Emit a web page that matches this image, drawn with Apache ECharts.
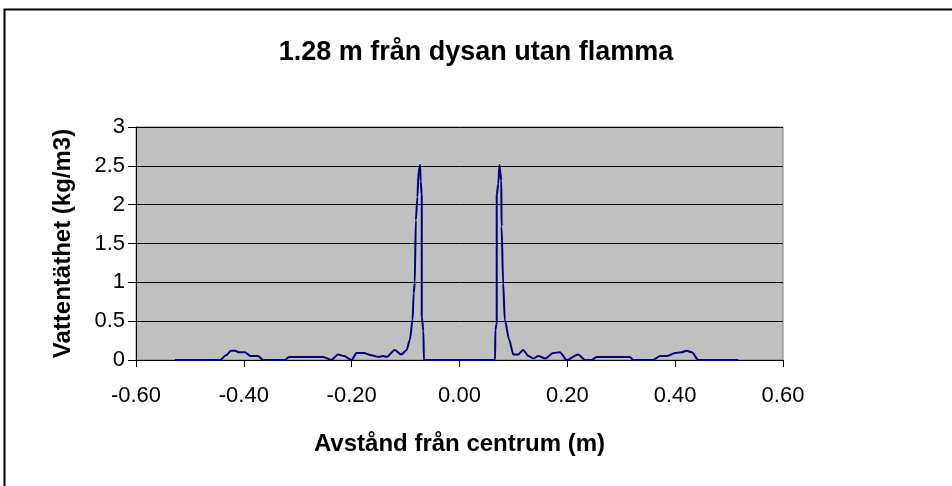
<!DOCTYPE html>
<html lang="sv">
<head>
    <meta charset="UTF-8">
    <title>1.28 m från dysan utan flamma</title>
    <style>
        html, body { margin: 0; padding: 0; background: #fff; }
        #main { width: 952px; height: 486px; }
    </style>
</head>
<body>
    <div id="main"></div>
    <script src="https://cdn.jsdelivr.net/npm/echarts@6/dist/echarts.min.js"></script>
    <script>
        // avstånd från centrum (m)
        const xVals = [
            -0.528, -0.444, -0.433, -0.424, -0.416, -0.410, -0.398, -0.387, -0.374, -0.364,
            -0.324, -0.316, -0.253, -0.238, -0.225, -0.214, -0.200, -0.191, -0.178, -0.163,
            -0.151, -0.141, -0.135, -0.120, -0.108, -0.098, -0.092, -0.087, -0.085, -0.083,
            -0.081, -0.078, -0.076, -0.073, -0.072, -0.070, -0.070, -0.067, -0.066,
            0.066, 0.0665, 0.069, 0.069, 0.072, 0.074, 0.076, 0.0775, 0.078, 0.081,
            0.084, 0.092, 0.100, 0.109, 0.118, 0.128, 0.137, 0.146, 0.159, 0.174,
            0.186, 0.199, 0.220, 0.233, 0.245, 0.254, 0.316, 0.322, 0.359, 0.372,
            0.384, 0.400, 0.412, 0.421, 0.431, 0.443, 0.517
        ];
        // vattentäthet (kg/m3)
        const yVals = [
            0, 0, 0.06, 0.12, 0.12, 0.10, 0.10, 0.05, 0.05, 0,
            0, 0.04, 0.04, 0, 0.07, 0.05, 0, 0.09, 0.09, 0.06,
            0.04, 0.05, 0.04, 0.13, 0.07, 0.13, 0.26, 0.52, 0.86, 0.99,
            1.80, 2.10, 2.42, 2.51, 2.30, 2.12, 0.56, 0.37, 0,
            0, 0.39, 0.47, 2.12, 2.27, 2.51, 2.40, 2.31, 1.72, 0.99,
            0.52, 0.26, 0.07, 0.07, 0.13, 0.05, 0.02, 0.05, 0.02, 0.09,
            0.10, 0, 0.07, 0, 0, 0.04, 0.04, 0, 0, 0.05,
            0.05, 0.09, 0.10, 0.12, 0.10, 0, 0
        ];
        const xTicks = [-0.6, -0.4, -0.2, 0, 0.2, 0.4, 0.6];

        const points = xVals.map((x, i) => [x, yVals[i]]);
        const font = 'Arial, "Liberation Sans", sans-serif';

        const myChart = echarts.init(document.getElementById('main'));
        myChart.setOption({
            animation: false,
            title: {
                text: '1.28 m från dysan utan flamma',
                left: 'center',
                top: 34,
                textStyle: { color: '#000', fontSize: 27, fontWeight: 'bold', fontFamily: font }
            },
            graphic: [{
                type: 'rect',
                shape: { x: 4.5, y: 9.5, width: 1000, height: 600 },
                style: { fill: 'none', stroke: '#000', lineWidth: 2 },
                silent: true
            }],
            grid: {
                left: 136, right: 169, top: 127, bottom: 126,
                show: true,
                backgroundColor: '#c0c0c0',
                borderColor: '#808080',
                borderWidth: 1
            },
            xAxis: {
                type: 'value',
                min: xTicks[0],
                max: xTicks[xTicks.length - 1],
                interval: 0.2,
                name: 'Avstånd från centrum (m)',
                nameLocation: 'middle',
                nameGap: 72,
                nameTextStyle: { color: '#000', fontSize: 24, fontWeight: 'bold', fontFamily: font },
                axisLine: { onZero: false, lineStyle: { color: '#000', width: 1 } },
                axisTick: { show: true, length: 7, lineStyle: { color: '#000' } },
                axisLabel: {
                    color: '#000', fontSize: 22, fontFamily: font, margin: 25,
                    formatter: v => v.toFixed(2)
                },
                splitLine: { show: false }
            },
            yAxis: {
                type: 'value',
                min: 0,
                max: 3,
                interval: 0.5,
                name: 'Vattentäthet (kg/m3)',
                nameLocation: 'middle',
                nameGap: 61,
                nameTextStyle: { color: '#000', fontSize: 24, fontWeight: 'bold', fontFamily: font },
                axisLine: { show: true, onZero: false, lineStyle: { color: '#000', width: 1 } },
                axisTick: { show: true, length: 8, lineStyle: { color: '#000' } },
                axisLabel: { color: '#000', fontSize: 22, fontFamily: font, margin: 11 },
                splitLine: { show: true, lineStyle: { color: '#000', width: 1 } }
            },
            series: [{
                type: 'line',
                data: points,
                showSymbol: false,
                smooth: 0.25,
                smoothMonotone: 'x',
                lineStyle: { color: '#000080', width: 2 }
            }]
        });
    </script>
</body>
</html>
